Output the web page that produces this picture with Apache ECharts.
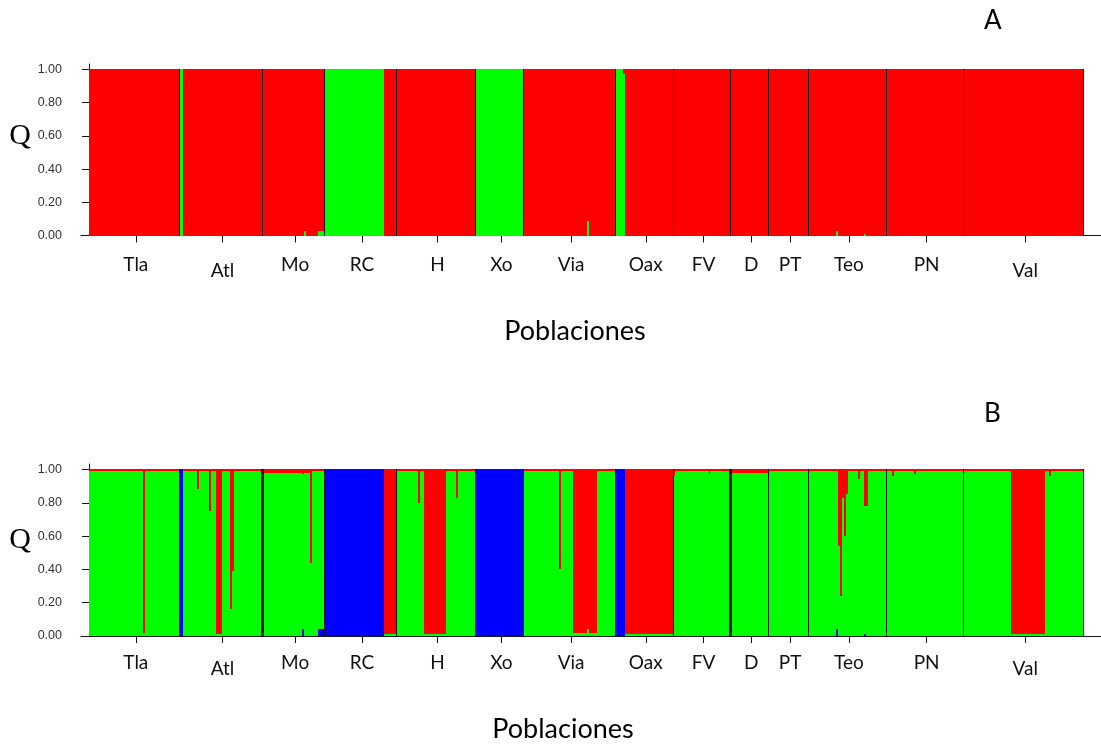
<!DOCTYPE html>
<html>
<head>
<meta charset="utf-8">
<title>Poblaciones - Q</title>
<script src="https://cdn.jsdelivr.net/npm/echarts@6/dist/echarts.min.js"></script>
<style>
  html, body { margin: 0; padding: 0; background: #ffffff; }
  #chart { width: 1101px; height: 754px; }
</style>
</head>
<body>
<div id="chart"></div>
<script>
// Populations in plotting order and number of individuals sampled in each
const populations = ['Tla', 'Atl', 'Mo', 'RC', 'H', 'Xo', 'Via', 'Oax', 'FV', 'D', 'PT', 'Teo', 'PN', 'Val'];
const sampleSizes = [45, 42, 31, 36, 40, 24, 46, 29, 29, 19, 20, 39, 39, 60];
const qTicks = [0, 0.2, 0.4, 0.6, 0.8, 1.0];

// K = 2 membership, run-length per population: [individuals, red, green]
const runsK2 = [
  [[45, 1, 0]],                                                        // Tla
  [[2, 0, 1], [40, 1, 0]],                                             // Atl
  [[21, 1, 0], [1, 0.97, 0.03], [6, 1, 0], [3, 0.97, 0.03]],           // Mo
  [[30, 0, 1], [6, 1, 0]],                                             // RC
  [[40, 1, 0]],                                                        // H
  [[24, 0, 1]],                                                        // Xo
  [[32, 1, 0], [1, 0.91, 0.09], [13, 1, 0]],                           // Via
  [[4, 0, 1], [1, 0.03, 0.97], [24, 1, 0]],                            // Oax
  [[29, 1, 0]],                                                        // FV
  [[19, 1, 0]],                                                        // D
  [[20, 1, 0]],                                                        // PT
  [[14, 1, 0], [1, 0.97, 0.03], [13, 1, 0], [1, 0.99, 0.01], [10, 1, 0]], // Teo
  [[39, 1, 0]],                                                        // PN
  [[60, 1, 0]]                                                         // Val
];

// K = 3 membership, run-length per population: [individuals, red, green, blue]
const runsK3 = [
  [[27, 0.01, 0.99, 0], [1, 0.98, 0.02, 0], [17, 0.01, 0.99, 0]],     // Tla
  [[2, 0, 0, 1], [7, 0.01, 0.99, 0], [1, 0.12, 0.88, 0], [5, 0.01, 0.99, 0],
   [1, 0.25, 0.75, 0], [3, 0.01, 0.99, 0], [3, 0.99, 0.01, 0], [4, 0.01, 0.99, 0],
   [1, 0.84, 0.16, 0], [1, 0.61, 0.39, 0], [14, 0.01, 0.99, 0]],      // Atl
  [[20, 0.02, 0.98, 0], [1, 0.03, 0.93, 0.04], [3, 0.02, 0.98, 0],
   [1, 0.56, 0.44, 0], [3, 0.01, 0.99, 0], [3, 0.01, 0.95, 0.04]],    // Mo
  [[30, 0, 0, 1], [6, 0.99, 0.01, 0]],                                 // RC
  [[11, 0.01, 0.99, 0], [1, 0.20, 0.80, 0], [2, 0.01, 0.99, 0], [11, 0.99, 0.01, 0],
   [5, 0.01, 0.99, 0], [1, 0.17, 0.83, 0], [9, 0.01, 0.99, 0]],       // H
  [[24, 0, 0, 1]],                                                     // Xo
  [[18, 0.01, 0.99, 0], [1, 0.60, 0.40, 0], [6, 0.01, 0.99, 0], [7, 0.98, 0.02, 0],
   [1, 0.96, 0.04, 0], [4, 0.98, 0.02, 0], [9, 0.01, 0.99, 0]],       // Via
  [[5, 0, 0, 1], [24, 0.99, 0.01, 0]],                                 // Oax
  [[1, 0.04, 0.96, 0], [17, 0.01, 0.99, 0], [1, 0.03, 0.97, 0], [10, 0.01, 0.99, 0]], // FV
  [[19, 0.02, 0.98, 0]],                                               // D
  [[20, 0.01, 0.99, 0]],                                               // PT
  [[14, 0.01, 0.99, 0], [1, 0.01, 0.95, 0.04], [1, 0.46, 0.54, 0], [1, 0.76, 0.24, 0],
   [1, 0.17, 0.83, 0], [1, 0.40, 0.60, 0], [1, 0.15, 0.85, 0], [5, 0.01, 0.99, 0],
   [1, 0.06, 0.94, 0], [2, 0.01, 0.99, 0], [1, 0.22, 0.77, 0.01], [1, 0.22, 0.78, 0],
   [9, 0.01, 0.99, 0]],                                                // Teo
  [[3, 0.01, 0.99, 0], [1, 0.04, 0.96, 0], [10, 0.01, 0.99, 0], [1, 0.03, 0.97, 0],
   [24, 0.01, 0.99, 0]],                                               // PN
  [[24, 0.01, 0.99, 0], [17, 0.99, 0.01, 0], [2, 0.01, 0.99, 0], [1, 0.04, 0.96, 0],
   [16, 0.01, 0.99, 0]]                                                // Val
];

// ---- drawing ----
const RED = '#ff0000', GREEN = '#00ff00', BLUE = '#0000ff';
const INK = '#161616';

const total = sampleSizes.reduce((a, b) => a + b, 0);
const starts = [];
let cursor = 0;
sampleSizes.forEach(n => { starts.push(cursor); cursor += n; });

// label anchor for each population (1-based mean individual position)
const labelPos = sampleSizes.map((n, i) => starts[i] + (n + 1) / 2 + 0.5);
// population boundaries after each group
const boundaryPos = sampleSizes.map((n, i) => starts[i] + n);

// horizontal frame: bars run 89..1083 px, axis line runs 81..1101 px
const gridLeft = 81, gridWidth = 1020, barLeft = 89, barRight = 1083;
const unitPx = (barRight - barLeft) / total;
const xMin = -(barLeft - gridLeft) / unitPx;
const xMax = total + (gridLeft + gridWidth - barRight) / unitPx;
const yMax = 1.033;

function toSegments(runs) {
  const rows = [];
  runs.forEach((popRuns, p) => {
    let x = starts[p];
    popRuns.forEach(([n, red, green, blue = 0]) => {
      rows.push([x, x + n, red, green, blue]);
      x += n;
    });
  });
  return rows;
}

function renderAncestry(params, api) {
  const x0 = api.value(0), x1 = api.value(1);
  const shares = [[api.value(4), BLUE], [api.value(3), GREEN], [api.value(2), RED]];
  const left = Math.round(api.coord([x0, 0])[0]);
  const right = Math.round(api.coord([x1, 0])[0]);
  let cum = 0;
  const children = [];
  shares.forEach(([q, color]) => {
    if (!(q > 0)) return;
    const yb = Math.round(api.coord([x0, cum])[1]);
    cum += q;
    const yt = Math.round(api.coord([x0, Math.min(cum, 1)])[1]);
    children.push({
      type: 'rect',
      shape: { x: left, y: yt, width: right - left, height: yb - yt },
      style: { fill: color }
    });
  });
  return { type: 'group', children };
}

function renderBoundary(params, api) {
  const top = api.coord([api.value(0), 1]);
  const bot = api.coord([api.value(0), 0]);
  const w = api.value(1);
  const px = Math.round(top[0]) + (w % 2 === 1 ? 0.5 : 0);
  return {
    type: 'line',
    shape: { x1: px, y1: Math.round(top[1]), x2: px, y2: Math.round(bot[1]) },
    style: { stroke: INK, lineWidth: w }
  };
}

function popName(v) {
  const i = labelPos.findIndex(p => Math.abs(p - v) < 1e-6);
  if (i < 0) return '';
  const name = populations[i];
  return (name === 'Atl' || name === 'Val') ? '{low|' + name + '}' : name;
}

function xAxisFor(gridIndex, margin) {
  return {
    gridIndex, type: 'value', min: xMin, max: xMax,
    axisLine: { show: true, onZero: true, lineStyle: { color: INK, width: 1 } },
    axisTick: { show: true, customValues: labelPos, length: 7, lineStyle: { color: INK, width: 1 } },
    axisLabel: {
      customValues: labelPos, formatter: popName, margin,
      fontFamily: 'Lato', fontSize: 19, color: '#111',
      rich: { low: { fontFamily: 'Lato', fontSize: 19, color: '#111', padding: [6, 0, 0, 0] } }
    },
    splitLine: { show: false }
  };
}

function yAxisFor(gridIndex) {
  return {
    gridIndex, type: 'value', min: 0, max: yMax,
    axisLine: { show: true, onZero: true, lineStyle: { color: INK, width: 1 } },
    axisTick: { show: true, customValues: qTicks, length: 7, lineStyle: { color: INK, width: 1 } },
    axisLabel: {
      customValues: qTicks, formatter: v => v.toFixed(2), margin: 19,
      fontFamily: 'Liberation Sans', fontSize: 12.5, color: '#333'
    },
    splitLine: { show: false }
  };
}

const boundariesA = boundaryPos.map(x => [x, 1]);
const boundariesB = boundaryPos.map((x, i) => [x, (i === 1 || i === 8) ? 3 : 1]);

function textEl(text, x, y, font, align) {
  return {
    type: 'text', x, y, silent: true,
    style: { text, font, fill: '#000', textAlign: align, align, textVerticalAlign: 'top', verticalAlign: 'top' }
  };
}

const chart = echarts.init(document.getElementById('chart'), null, { renderer: 'canvas' });
chart.setOption({
  animation: false,
  backgroundColor: '#ffffff',
  grid: [
    { left: gridLeft, width: gridWidth, top: 64, height: 171.5 },
    { left: gridLeft, width: gridWidth, top: 464, height: 172 }
  ],
  xAxis: [xAxisFor(0, 20), xAxisFor(1, 17)],
  yAxis: [yAxisFor(0), yAxisFor(1)],
  series: [
    { type: 'custom', xAxisIndex: 0, yAxisIndex: 0, silent: true, renderItem: renderAncestry,
      encode: { x: [0, 1], y: [2, 3, 4] }, data: toSegments(runsK2).map(r => [r[0], r[1], r[2], r[3], 0]) },
    { type: 'custom', xAxisIndex: 0, yAxisIndex: 0, silent: true, renderItem: renderBoundary,
      encode: { x: 0 }, data: boundariesA },
    { type: 'custom', xAxisIndex: 1, yAxisIndex: 1, silent: true, renderItem: renderAncestry,
      encode: { x: [0, 1], y: [2, 3, 4] }, data: toSegments(runsK3) },
    { type: 'custom', xAxisIndex: 1, yAxisIndex: 1, silent: true, renderItem: renderBoundary,
      encode: { x: 0 }, data: boundariesB }
  ],
  graphic: [
    textEl('A', 984, 8, '26px Lato', 'left'),
    textEl('B', 984, 401, '26px Lato', 'left'),
    textEl('Q', 20, 121, '30px "Liberation Serif"', 'center'),
    textEl('Q', 20, 525, '30px "Liberation Serif"', 'center'),
    textEl('Poblaciones', 575, 318, '27px Lato', 'center'),
    textEl('Poblaciones', 563, 716, '27px Lato', 'center')
  ]
});
</script>
</body>
</html>
